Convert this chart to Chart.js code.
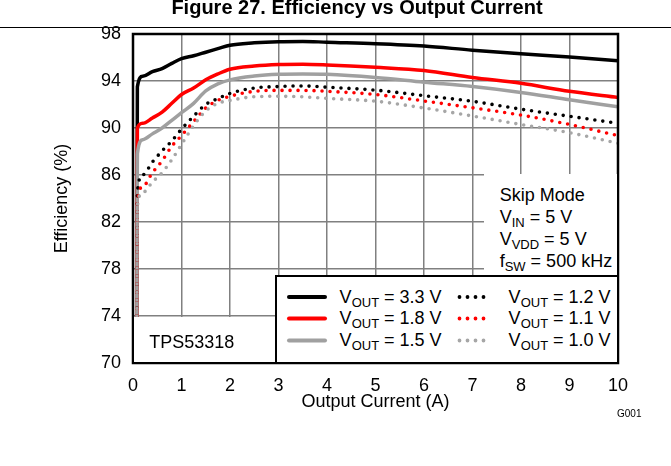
<!DOCTYPE html>
<html>
<head>
<meta charset="utf-8">
<script src="https://cdn.jsdelivr.net/npm/chart.js@4.4.1/dist/chart.umd.min.js"></script>
<style>
html,body{margin:0;padding:0;background:#fff;}
#wrap{position:relative;width:671px;height:466px;overflow:hidden;font-family:'Liberation Sans',Arial,Helvetica,sans-serif;color:#000;}
#chart{position:absolute;left:0;top:0;}
.abs{position:absolute;white-space:nowrap;}
#figTitle{font-weight:bold;font-size:20px;line-height:20px;left:0;width:714px;text-align:center;top:-3.5px;}
#rule{left:0;top:26.5px;width:671px;height:1.5px;background:#000;}
#skip{background:#fff;}
#skipText{left:16px;top:10px;font-size:18px;line-height:22px;}
#legend{background:#fff;border:2px solid #000;box-sizing:border-box;}
#legend svg{position:absolute;left:0;top:0;}
.row{position:absolute;font-size:18px;line-height:22px;white-space:nowrap;}
sub{font-size:13px;vertical-align:-4px;line-height:0;}
#tps{background:#fff;}
#tpsText{left:15px;top:13.5px;font-size:18px;line-height:22px;}
#g001{font-size:10px;line-height:12px;left:617px;top:408px;}
</style>
</head>
<body>
<div id="wrap">
<canvas id="chart" width="671" height="466"></canvas>
<div id="figTitle" class="abs">Figure 27. Efficiency vs Output Current</div>
<div id="rule" class="abs"></div>
<div id="skip" class="abs"><div id="skipText" class="abs">Skip Mode<br>V<sub>IN</sub> = 5 V<br>V<sub>VDD</sub> = 5 V<br>f<sub>SW</sub> = 500 kHz</div></div>
<div id="legend" class="abs"></div>
<div id="tps" class="abs"><div id="tpsText" class="abs">TPS53318</div></div>
<div id="g001" class="abs">G001</div>
</div>
<script>
// ---- data ----
const currentA = [0.08, 0.09, 0.2, 0.4, 0.6, 0.8, 1.0, 1.25, 1.5, 1.75, 2.0, 2.5, 3.0, 3.5, 4.0, 5.0, 6.0, 7.0, 8.0, 9.0, 10.0];
const eff3v3 = [74, 93.5, 94.4, 94.8, 95.05, 95.5, 95.9, 96.15, 96.45, 96.75, 97.05, 97.25, 97.35, 97.37, 97.3, 97.18, 96.98, 96.62, 96.32, 96.05, 95.72];
const eff1v8 = [74, 90.0, 90.4, 90.85, 91.35, 92.1, 92.85, 93.4, 94.1, 94.6, 95.0, 95.27, 95.4, 95.43, 95.37, 95.17, 94.9, 94.3, 93.8, 93.12, 92.6];
const eff1v5 = [74, 87.8, 89.0, 89.5, 90.0, 90.65, 91.3, 92.1, 93.15, 93.75, 94.1, 94.42, 94.57, 94.6, 94.57, 94.3, 93.9, 93.53, 93.03, 92.4, 91.8];
const eff1v2 = [74, 84.5, 86.0, 87.1, 88.05, 88.9, 89.9, 91.0, 92.0, 92.5, 92.95, 93.4, 93.53, 93.58, 93.47, 93.22, 92.75, 92.27, 91.6, 91.0, 90.4];
const eff1v1 = [74, 83.6, 85.0, 86.2, 87.2, 88.45, 89.35, 90.55, 91.7, 92.35, 92.7, 93.12, 93.2, 93.2, 93.12, 92.85, 92.3, 91.72, 91.1, 90.3, 89.35];
const eff1v0 = [74, 83.4, 84.5, 85.4, 86.2, 87.3, 88.6, 90.2, 91.45, 92.1, 92.35, 92.66, 92.7, 92.65, 92.52, 92.28, 91.7, 91.02, 90.3, 89.6, 88.7];
const seriesLabels = ['3.3 V', '1.8 V', '1.5 V', '1.2 V', '1.1 V', '1.0 V'];
const xRange = [0, 10];
const yRange = [70, 98];
const xStep = 1;
const yStep = 4;

// ---- styles ----
const seriesValues = [eff3v3, eff1v8, eff1v5, eff1v2, eff1v1, eff1v0];
const seriesColors = ['#000000', '#ff0000', '#a0a0a0', '#000000', '#ff0000', '#a6a6a6'];
const seriesDotted = [false, false, false, true, true, true];
const seriesOrder = [5, 4, 3, 2, 1, 0];

const datasets = seriesValues.map((vals, i) => ({
  label: 'VOUT = ' + seriesLabels[i],
  data: currentA.map((x, k) => ({x: x, y: vals[k]})),
  borderColor: seriesColors[i],
  backgroundColor: seriesColors[i],
  borderWidth: seriesDotted[i] ? 3.6 : 3.5,
  borderDash: seriesDotted[i] ? [0, 8] : [],
  borderCapStyle: 'round',
  borderJoinStyle: 'round',
  pointRadius: 0,
  fill: false,
  cubicInterpolationMode: 'monotone',
  order: seriesOrder[i]
}));

const frame = {
  id: 'frame',
  afterDatasetsDraw(chart) {
    const {ctx, chartArea: a} = chart;
    ctx.save();
    ctx.strokeStyle = '#000';
    ctx.lineWidth = 2.5;
    ctx.strokeRect(a.left, a.top, a.right - a.left, a.bottom - a.top);
    ctx.restore();
  }
};

const font = {family: "'Liberation Sans', Arial, sans-serif", size: 18};
const chart = new Chart(document.getElementById('chart').getContext('2d'), {
  type: 'line',
  data: {datasets: datasets},
  plugins: [frame],
  options: {
    responsive: false,
    animation: false,
    devicePixelRatio: 1,
    layout: {padding: {left: 47, right: 53, top: 34, bottom: 49}},
    plugins: {legend: {display: false}, tooltip: {enabled: false}, title: {display: false}},
    scales: {
      x: {
        type: 'linear', min: xRange[0], max: xRange[1],
        ticks: {stepSize: xStep, color: '#000', font: font, padding: 12, maxRotation: 0},
        grid: {color: '#808080', lineWidth: 1.5, drawTicks: false},
        border: {display: false},
        title: {display: true, text: 'Output Current (A)', color: '#000', font: font, padding: {top: 4, bottom: 4}},
        afterFit: s => { s.height = 54; }
      },
      y: {
        type: 'linear', min: yRange[0], max: yRange[1],
        ticks: {stepSize: yStep, color: '#000', font: font, padding: 12},
        grid: {color: '#808080', lineWidth: 1.5, drawTicks: false},
        border: {display: false},
        title: {display: true, text: 'Efficiency (%)', color: '#000', font: font, padding: {top: 4, bottom: 4}},
        afterFit: s => { s.width = 86; }
      }
    }
  }
});

// ---- overlays positioned from the chart's scales ----
const X = v => chart.scales.x.getPixelForValue(v);
const Y = v => chart.scales.y.getPixelForValue(v);
const a = chart.chartArea;
function place(el, l, t, r, b) {
  el.style.left = l + 'px'; el.style.top = t + 'px';
  el.style.width = (r - l) + 'px'; el.style.height = (b - t) + 'px';
}
const legendEl = document.getElementById('legend');
const legL = X(2.92), legT = Y(77.5);
place(legendEl, legL, legT, a.right + 1.25, a.bottom + 1.25);
place(document.getElementById('skip'), X(7.23), Y(86) - 1, a.right - 1.25, legT);
place(document.getElementById('tps'), a.left + 1.25, Y(74) + 1, legL, a.bottom - 1.25);

// legend content
const rowCenters = [20, 41.5, 63.5];
const colSample = [[12, 48], [182.5, 214.5]];
const colText = [63, 232];
let svg = '<svg width="400" height="100" xmlns="http://www.w3.org/2000/svg">';
let html = '';
seriesLabels.forEach((lab, i) => {
  const col = seriesDotted[i] ? 1 : 0;
  const row = i % 3;
  const cy = rowCenters[row];
  const [x1, x2] = colSample[col];
  svg += '<line x1="' + x1 + '" y1="' + cy + '" x2="' + x2 + '" y2="' + cy + '" stroke="' + seriesColors[i] +
    '" stroke-width="' + (seriesDotted[i] ? 3.8 : 4) + '" stroke-linecap="round"' +
    (seriesDotted[i] ? ' stroke-dasharray="0 8"' : '') + '/>';
  html += '<div class="row" style="left:' + colText[col] + 'px;top:' + (cy - 11) + 'px">V<sub>OUT</sub> = ' + lab + '</div>';
});
svg += '</svg>';
legendEl.innerHTML = svg + html;
</script>
</body>
</html>
